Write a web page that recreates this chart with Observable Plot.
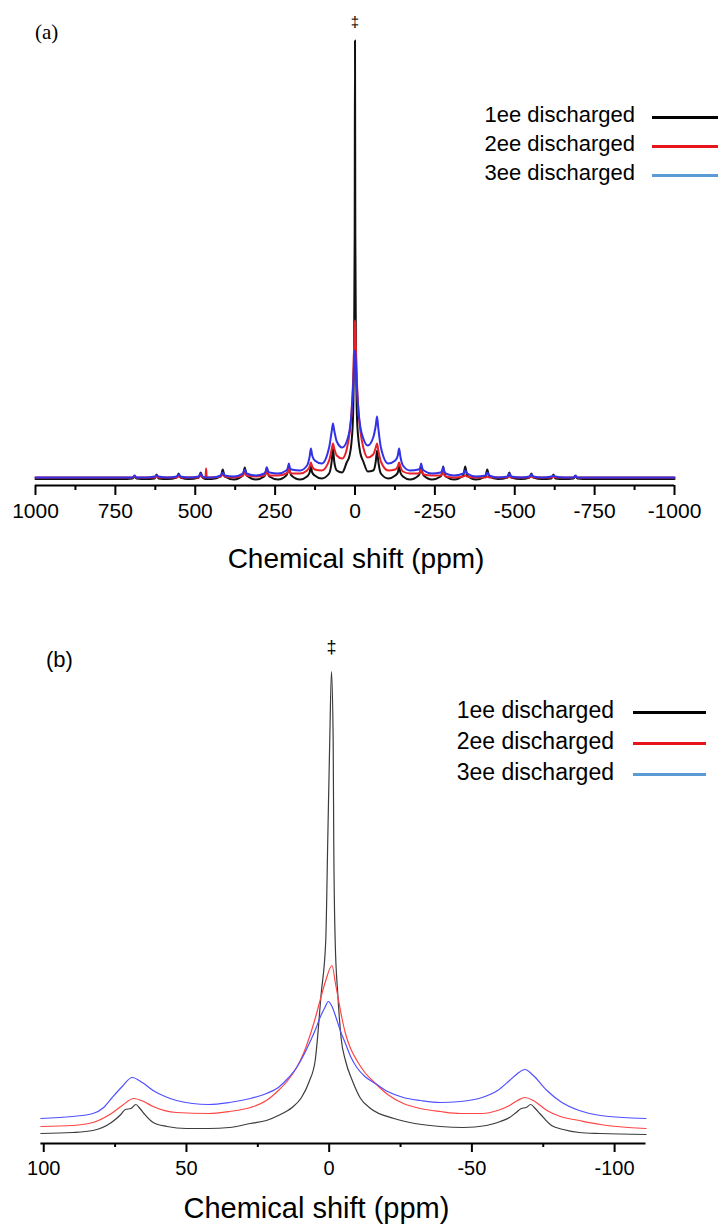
<!DOCTYPE html>
<html><head><meta charset="utf-8">
<script src="https://cdn.jsdelivr.net/npm/d3@7"></script>
<script src="https://cdn.jsdelivr.net/npm/@observablehq/plot@0.6"></script>
<style>
body{margin:0;background:#fff;}
#root{position:relative;width:721px;height:1226px;overflow:hidden;font-family:"Liberation Sans",Arial,sans-serif;color:#000;background:#fff;}
</style></head><body><div id="root"></div>
<script>
// ---------- labels ----------
const seriesNames = ["1ee discharged", "2ee discharged", "3ee discharged"];
const legendColors = ["#000000", "#e8141c", "#5b9bd5"];
const lineColorsA = ["#111111", "#e8202a", "#3232e6"];
const lineColorsB = ["#3c3c3c", "#ff4545", "#5050ff"];
const axisTitle = "Chemical shift (ppm)";
const panelLabels = ["(a)", "(b)"];
const peakMark = "‡";

// ---------- ticks ----------
const ticksA = [1000, 750, 500, 250, 0, -250, -500, -750, -1000];
const minorTicksA = [875, 625, 375, 125, -125, -375, -625, -875];
const ticksB = [100, 50, 0, -50, -100];
const minorTicksB = [75, 25, -25, -75];

// ---------- panel (a): full spectrum, shared ppm positions ----------
const ppmA = [
  1000, 900, 800, 730, 696, 690, 684, 655, 627, 621, 615, 586, 558, 552, 546, 520,
  489, 483, 477, 468, 466, 464, 448, 420, 414, 408, 379, 351, 345, 339, 310,
  284, 279, 276, 273, 268, 241, 215, 210, 207, 204, 199, 172,
  150, 142, 138, 134, 126, 104, 81, 73, 69, 65, 57, 40, 26, 17, 11, 6, 3, 1, 0,
  -1, -3, -6, -11, -17, -26, -40, -57, -65, -69, -73, -81, -104, -126, -134, -138, -142, -150,
  -172, -199, -204, -207, -210, -215, -241, -268, -273, -276, -279, -284,
  -310, -339, -345, -351, -379, -408, -414, -420, -448, -477, -483, -489,
  -520, -546, -552, -558, -586, -615, -621, -627, -655, -684, -690, -696, -730, -800, -900, -1000
];
const blackA = [
  6.5, 6.5, 6.5, 6.5, 7, 9, 7, 6.5, 7, 11, 7, 6.5, 8, 12, 8, 6.5,
  8, 13, 8, 6.5, 6.5, 6.5, 6.5, 9, 16, 9, 6, 10, 18, 10, 6,
  9, 13, 18, 13, 9, 6, 10, 14, 18, 14, 10, 6,
  9, 13, 19, 13, 10, 7, 12, 24, 37, 24, 15, 13, 23, 30, 43, 70, 140, 250, 445,
  250, 140, 70, 45, 32, 24, 14, 15, 24, 35, 24, 12, 7, 10, 13, 19, 13, 9,
  6, 10, 14, 19, 14, 10, 6, 9, 13, 19, 13, 9,
  6, 10, 19, 10, 6, 9, 16, 9, 6.5, 8, 13, 8,
  6.5, 8, 12, 8, 6.5, 7, 11, 7, 6.5, 7, 9, 7, 6.5, 6.5, 6.5, 6.5
];
const redA = [
  8, 8, 8, 8, 8, 9, 8, 8, 8, 9, 8, 8, 8, 9, 8, 8,
  8, 10, 8, 8, 17, 8, 8, 9, 11, 9, 8, 10, 13, 10, 9,
  10, 12, 15, 12, 10, 10, 12, 14, 17, 14, 12, 12,
  15, 19, 23, 19, 16, 15, 25, 36, 42, 37, 30, 27, 36, 52, 72, 104, 136, 160, 165,
  160, 136, 104, 74, 54, 38, 28, 31, 38, 42, 35, 24, 15, 16, 19, 23, 19, 14,
  12, 12, 14, 16, 13, 11, 10, 10, 12, 14, 11, 9,
  8, 9, 10, 9, 8, 8, 9, 8, 8, 8, 9, 8,
  8, 8, 9, 8, 8, 8, 9, 8, 8, 8, 9, 8, 8, 8, 8, 8
];
const blueA = [
  8, 8, 8, 8, 8, 10, 8, 8, 9, 10, 9, 8, 9, 11, 9, 8,
  9, 12, 9, 8, 8, 8, 8, 10, 13, 10, 9, 12, 16, 12, 10,
  12, 15, 18, 15, 13, 12, 15, 18, 22, 18, 16, 15,
  20, 29, 37, 30, 25, 22, 38, 54, 62, 55, 44, 38, 44, 55, 72, 98, 120, 133, 135,
  133, 120, 98, 74, 58, 47, 40, 48, 60, 69, 57, 38, 22, 25, 30, 37, 29, 20,
  15, 16, 18, 22, 18, 15, 12, 13, 15, 18, 15, 12,
  10, 12, 15, 12, 9, 10, 13, 10, 8, 9, 12, 9,
  8, 9, 11, 9, 8, 9, 10, 9, 8, 8, 10, 8, 8, 8, 8, 8
];

// ---------- panel (b): expanded region ----------
const ppmB1 = [101, 90, 82.8, 76.3, 73, 71.4, 69.5, 67.7, 66.3, 64.9, 61.7, 56.8, 50, 42.3, 35, 27.6, 22, 17.8, 13, 9.7, 7, 4.9, 2.8, 1.2, 0.5, -0.2, -0.8, -1.4, -1.6, -2.1, -3.0, -4.2, -5.7, -8.1, -11, -14.5, -22.7, -30, -38.9, -47, -55.1, -60, -63.2, -65.5, -67.3, -69, -70.6, -72.2, -73.8, -77.9, -82, -87.6, -95, -111];
const blackB = [10, 11, 13, 21, 29, 34, 35, 39, 35, 30, 21, 17, 15, 15, 16, 20, 23, 28, 36, 46, 62, 83, 150, 203, 303, 403, 472, 403, 303, 203, 150, 105, 83, 63, 45, 35, 25, 20, 17, 16, 18, 22, 26, 31, 35, 36, 39, 35, 30, 18, 14, 11, 10, 9];

const ppmB2 = [101, 90, 82.8, 76.3, 72.5, 68.5, 65, 61.7, 53.5, 42.3, 35, 27.6, 22, 17.8, 14.5, 11.4, 9, 6.5, 4.8, 3.2, 1.2, -1.0, -2.2, -3.3, -4.5, -5.7, -7.5, -9.7, -12.5, -16.2, -20.5, -26, -32, -38.9, -46, -53.6, -59, -63.2, -66, -68.6, -71.5, -76.3, -81, -87.6, -95, -111];
const redB = [17, 18, 21, 30, 38, 45, 42, 37, 31, 30, 32, 36, 43, 53, 63, 76, 90, 110, 126, 143, 163, 178, 160, 143, 125, 110, 95, 83, 71, 60, 49, 40, 35, 32, 30, 30, 33, 38, 43, 46, 43, 33, 27, 23, 19, 15];

const ppmB3 = [101, 90, 82.8, 79, 76.3, 72.5, 69, 65.5, 61.7, 57.5, 53.5, 42.3, 35, 27.6, 22, 17.8, 14.5, 11.4, 9, 6.5, 4.8, 3.2, 1.5, 0.3, -1, -2.4, -4, -5.7, -7.5, -9.7, -12.5, -16.2, -20.5, -26, -32, -38.9, -46, -53.6, -59, -63.2, -66, -68.6, -71.5, -76.3, -81, -87.6, -95, -111];
const blueB = [25, 27, 30, 36, 45, 57, 66, 61, 53, 47, 43, 39, 41, 45, 50, 56, 65, 76, 88, 103, 114, 126, 136, 142, 137, 126, 112, 100, 87, 76, 67, 60, 52, 46, 43, 41, 42, 46, 53, 63, 70, 74, 68, 53, 42, 33, 28, 25];

// ---------- helpers ----------
const rows = (xs, ys) => xs.map((x, i) => ({ppm: x, I: ys[i]}));
const fmt = d => String(d);
const FONT = '"Liberation Sans", Arial, sans-serif';
const root = document.getElementById("root");

function place(el, left, top) {
  el.style.position = "absolute";
  el.style.left = left + "px";
  el.style.top = top + "px";
  root.appendChild(el);
}

// ---------- plot (a) ----------
const dataA = [rows(ppmA, blackA), rows(ppmA, redA), rows(ppmA, blueA)];
const plotA = Plot.plot({
  width: 721, height: 600,
  marginLeft: 35, marginRight: 47, marginTop: 40, marginBottom: 115,
  x: {domain: [1000, -1000]},
  y: {domain: [0, 445], axis: null},
  style: {fontFamily: FONT, fontSize: "21px", overflow: "visible", background: "transparent", color: "#000"},
  marks: [
    ...dataA.map((d, i) => Plot.line(d, {x: "ppm", y: "I", stroke: lineColorsA[i], strokeWidth: 2, curve: "monotone-x", strokeLinejoin: "round"})),
    Plot.ruleY([0], {stroke: "#000", strokeWidth: 2.2}),
    Plot.axisX({ticks: ticksA, tickSize: 10, tickPadding: 8, tickFormat: fmt, strokeWidth: 2, fontSize: 21, label: null}),
    Plot.axisX({ticks: minorTicksA, tickSize: 5, tickFormat: () => "", strokeWidth: 2, label: null}),
    Plot.text(dataA[0], Plot.selectMaxY({x: "ppm", y: "I", text: () => peakMark, dy: -18, fontSize: 15})),
    Plot.text([axisTitle], {text: d => d, frameAnchor: "bottom", lineAnchor: "top", dy: 63, dx: 1, fontSize: 28})
  ]
});
place(plotA, 0, 0);

// ---------- plot (b) ----------
const dataB = [rows(ppmB1, blackB), rows(ppmB2, redB), rows(ppmB3, blueB)];
const plotB = Plot.plot({
  width: 721, height: 626,
  marginLeft: 40.4, marginRight: 75.5, marginTop: 71, marginBottom: 83,
  x: {domain: [101, -111]},
  y: {domain: [0, 472], axis: null},
  style: {fontFamily: FONT, fontSize: "20px", overflow: "visible", background: "transparent", color: "#000"},
  marks: [
    ...dataB.map((d, i) => Plot.line(d, {x: "ppm", y: "I", stroke: lineColorsB[i], strokeWidth: 1.2, curve: "monotone-x", strokeLinejoin: "round"})),
    Plot.ruleY([0], {stroke: "#000", strokeWidth: 2.2}),
    Plot.axisX({ticks: ticksB, tickSize: 9, tickPadding: 8, tickFormat: fmt, strokeWidth: 2, fontSize: 20, label: null}),
    Plot.axisX({ticks: minorTicksB, tickSize: 4, tickFormat: () => "", strokeWidth: 2, label: null}),
    Plot.text(dataB[0], Plot.selectMaxY({x: "ppm", y: "I", text: () => peakMark, dy: -24, fontSize: 18})),
    Plot.text([axisTitle], {text: d => d, frameAnchor: "bottom", lineAnchor: "top", dy: 54, dx: -27, fontSize: 29})
  ]
});
place(plotB, 0, 600);

// ---------- panel labels ----------
function label(txt, left, cy, size, family) {
  const d = document.createElement("div");
  d.textContent = txt;
  d.style.fontSize = size + "px";
  d.style.lineHeight = "1";
  d.style.fontFamily = family;
  d.style.transform = "translateY(-50%)";
  d.style.whiteSpace = "nowrap";
  place(d, left, cy);
}
label(panelLabels[0], 35, 32, 21, '"Liberation Serif", "Times New Roman", serif');
label(panelLabels[1], 46, 660, 22, FONT);

// ---------- legends ----------
function legend(rowYs, size, textRight, x1, x2) {
  seriesNames.forEach((name, i) => {
    const t = document.createElement("div");
    t.textContent = name;
    t.style.fontSize = size + "px";
    t.style.lineHeight = "1";
    t.style.whiteSpace = "nowrap";
    t.style.position = "absolute";
    t.style.right = (721 - textRight) + "px";
    t.style.top = (rowYs[i] - 2) + "px";
    t.style.transform = "translateY(-50%)";
    root.appendChild(t);
    const s = document.createElement("div");
    s.style.width = (x2 - x1) + "px";
    s.style.height = "3px";
    s.style.background = legendColors[i];
    place(s, x1, rowYs[i] - 1.5);
  });
}
legend([117, 146, 175], 22, 635, 652, 718);
legend([712, 743, 774], 23, 614, 633, 706);
</script></body></html>
